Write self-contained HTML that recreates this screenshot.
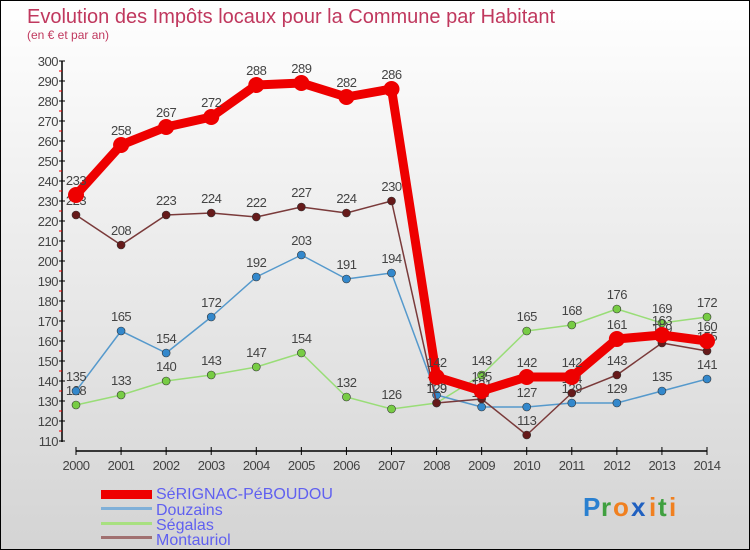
<!DOCTYPE html>
<html><head><meta charset="utf-8"><style>
body{margin:0}
#c{position:relative;width:748px;height:548px;border:1px solid #000;background:linear-gradient(#fff 0%,#f2f2f2 30%,#d4d4d4 100%);font-family:"Liberation Sans",sans-serif;overflow:hidden}
</style></head><body>
<div id="c">
<svg width="748" height="548" style="position:absolute;left:0;top:0" id="svg">
<text x="26" y="22" font-size="20" fill="#c0385e">Evolution des Impôts locaux pour la Commune par Habitant</text>
<text x="26" y="38" font-size="12" fill="#c0385e">(en € et par an)</text>
<g id="axes"></g><g id="series"></g>
<g font-size="16" fill="#6060f0">
<rect x="100" y="489" width="51" height="9" fill="#e00"/>
<text x="155" y="498">SéRIGNAC-PéBOUDOU</text>
<rect x="100" y="506" width="51" height="3" fill="#80b0d8"/>
<text x="155" y="514">Douzains</text>
<rect x="100" y="521" width="51" height="3" fill="#a8e080"/>
<text x="155" y="529">Ségalas</text>
<rect x="100" y="535" width="51" height="3" fill="#a07070"/>
<text x="155" y="544">Montauriol</text>
</g>
<g font-size="26" font-weight="bold">
<text x="582" y="515" fill="#2a80d0">P</text><text x="600" y="515" fill="#40a040">r</text><text x="612" y="515" fill="#f08020">o</text><text x="630" y="515" fill="#2060c0">x</text><text x="648" y="515" fill="#f08020">i</text><text x="657" y="515" fill="#40a040">t</text><text x="668" y="515" fill="#f08020">i</text>
</g>
</svg>
</div>
<script>
const years=[2000,2001,2002,2003,2004,2005,2006,2007,2008,2009,2010,2011,2012,2013,2014];
const serignac=[233,258,267,272,288,289,282,286,142,135,142,142,161,163,160];
const douzains=[135,165,154,172,192,203,191,194,133,127,127,129,129,135,141];
const segalas=[128,133,140,143,147,154,132,126,129,143,165,168,176,169,172];
const montauriol=[223,208,223,224,222,227,224,230,129,131,113,134,143,159,155];
const yTicks=[110,120,130,140,150,160,170,180,190,200,210,220,230,240,250,260,270,280,290,300];
const NS='http://www.w3.org/2000/svg';
const xS=i=>75+i*(631/14);
const yS=v=>60+(300-v)*2;
function mk(t,a,p){const e=document.createElementNS(NS,t);for(const k in a)e.setAttribute(k,a[k]);p.appendChild(e);return e;}
const ax=document.getElementById('axes');
let l=mk('line',{x1:61,y1:60,x2:61,y2:441,stroke:'#000','stroke-width':1.5},ax);


l=mk('line',{x1:75,y1:450,x2:706,y2:450,stroke:'#000','stroke-width':1.5},ax);


yTicks.forEach(v=>{
 mk('line',{x1:58,y1:yS(v),x2:64,y2:yS(v),stroke:'#000'},ax);
 if(v<300)mk('line',{x1:58,y1:yS(v+5),x2:61,y2:yS(v+5),stroke:'#e00'},ax);
 const t=mk('text',{x:57,y:yS(v)+5,'font-size':13,fill:'#444','text-anchor':'end','letter-spacing':'-0.5'},ax);t.textContent=v;
 
 
});
years.forEach((y,i)=>{
 mk('line',{x1:xS(i),y1:446,x2:xS(i),y2:454,stroke:'#000'},ax);
 const t=mk('text',{x:xS(i),y:469,'font-size':13,fill:'#444','text-anchor':'middle','letter-spacing':'-0.5'},ax);t.textContent=y;
 
 
});
const sg=document.getElementById('series');
function draw(vals,color,w,r,name,dot){
 const g=mk('g',{},sg);
 
 
 mk('polyline',{points:vals.map((v,i)=>xS(i)+','+yS(v)).join(' '),fill:'none',stroke:color,'stroke-width':w,'stroke-linejoin':'round'},g);
 vals.forEach((v,i)=>{
  const c=mk('circle',{cx:xS(i),cy:yS(v),r:r,fill:dot,stroke:'#333','stroke-width':r>5?0:0.6},g);
  
  
  const t=mk('text',{x:xS(i),y:yS(v)-10,'font-size':13,fill:'#444','text-anchor':'middle','letter-spacing':'-0.5'},g);t.textContent=v;
  
  
 });
}
draw(segalas,'#99dd77',1.5,4,'segalas','#77cc44');
draw(douzains,'#5599cc',1.5,4,'douzains','#3388cc');
draw(montauriol,'#7a3a3a',1.5,4,'montauriol','#661a1a');
draw(serignac,'#ee0000',9,8,'serignac','#ee0000');
</script>
</body></html>
